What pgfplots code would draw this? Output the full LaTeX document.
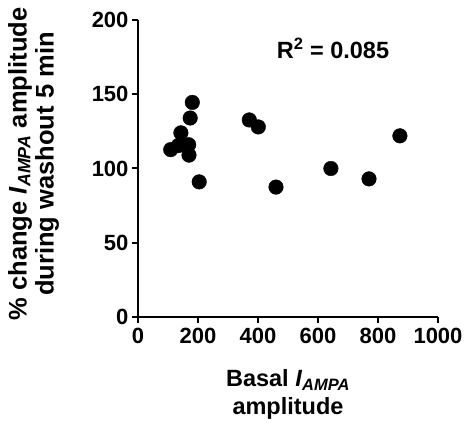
\documentclass[border=0pt]{standalone}
\usepackage{fontspec}
\setmainfont{Liberation Sans}
\usepackage{pgfplots}
\pgfplotsset{compat=1.18}

\begin{document}
\begin{tikzpicture}
\begin{axis}[
    name=ax,
    scale only axis,
    width=300pt, height=297pt,
    xmin=0, xmax=1000, ymin=0, ymax=200,
    xtick={0,200,...,1000}, ytick={0,50,...,200},
    axis x line*=bottom, axis y line*=left,
    axis line style={line width=2pt},
    major tick style={line width=2pt, black},
    tick align=outside, major tick length=6pt,
    tick label style={font=\fontsize{22}{22}\selectfont\bfseries},
    xticklabel style={yshift=-2pt},
    /pgf/number format/assume math mode=true,
    /pgf/number format/1000 sep={},
    xlabel={Basal \textit{I}\textsubscript{\textit{AMPA}}\\amplitude},
    ylabel={\% change \textit{I}\textsubscript{\textit{AMPA}} amplitude\\during washout 5 min},
    xlabel style={at={(axis description cs:0.5,-0.26)}, anchor=center,
        font=\fontsize{23.5}{28}\selectfont\bfseries, align=center},
    ylabel style={at={(axis description cs:-0.348,0.515)}, anchor=center,
        font=\fontsize{25.5}{27}\selectfont\bfseries, align=center},
    clip=false,
]
\addplot[only marks, mark=*, mark size=7.3pt, black] coordinates {
    (181,144.5) (174,134) (371,132.7) (401,128) (143,124)
    (109,112.7) (134,115.4) (169,116) (170,109) (204,91)
    (460,87.5) (643,100) (770,93) (873,122)
};
\node[font=\fontsize{23.5}{23.5}\selectfont\bfseries] at (axis cs:650,181) {R\textsuperscript{2} = 0.085};
\end{axis}
\pgfresetboundingbox
\path[use as bounding box] (ax.south west) ++(-138pt,-111pt) rectangle ++(464pt,428pt);
\end{tikzpicture}
\end{document}
